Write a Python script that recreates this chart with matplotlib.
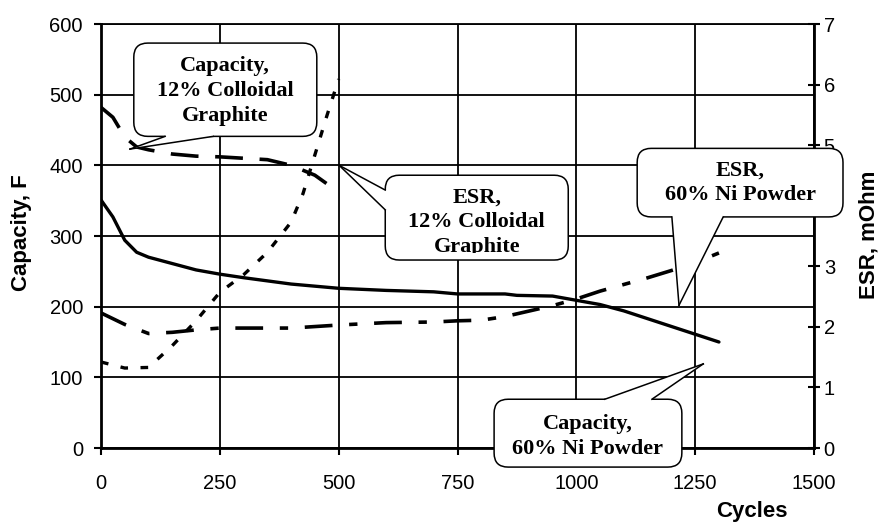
import numpy as np
import matplotlib
matplotlib.use("Agg")
import matplotlib.pyplot as plt
from matplotlib.patches import FancyBboxPatch, Polygon, Rectangle
from matplotlib.lines import Line2D
from matplotlib.transforms import IdentityTransform

plt.rcParams['font.family'] = ['Liberation Sans', 'DejaVu Sans']
plt.rcParams['lines.scale_dashes'] = False

# Capacity, 60% Ni Powder (left axis, F)
cap_ni_cycles = [0, 25, 50, 75, 100, 150, 200, 250, 300, 400, 500, 600, 700, 750,
                 850, 875, 950, 1000, 1050, 1100, 1200, 1300]
cap_ni = [351, 327, 294, 277, 270, 261, 252, 246, 241, 232, 226, 223, 221, 218,
          218, 216, 215, 209, 203, 194, 172, 150]

# Capacity, 12% Colloidal Graphite (left axis, F)
cap_cg_cycles = [0, 25, 50, 75, 100, 150, 200, 250, 300, 350, 400, 450, 500]
cap_cg = [482, 468, 440, 426, 422, 416, 413, 412, 410, 408, 400, 386, 362]

# ESR, 12% Colloidal Graphite (right axis, mOhm)
esr_cg_cycles = [0, 50, 100, 150, 200, 250, 300, 350, 400, 425, 450, 475, 500]
esr_cg = [1.42, 1.32, 1.33, 1.69, 2.10, 2.57, 2.86, 3.23, 3.73, 4.20, 4.84, 5.48, 6.09]

# ESR, 60% Ni Powder (right axis, mOhm)
esr_ni_cycles = [0, 50, 100, 150, 200, 250, 300, 400, 500, 600, 700, 750, 800, 850,
                 900, 950, 1000, 1050, 1100, 1150, 1200, 1250, 1300]
esr_ni = [2.23, 2.04, 1.89, 1.91, 1.95, 1.98, 1.98, 1.98, 2.03, 2.07, 2.08, 2.10, 2.11,
          2.17, 2.26, 2.35, 2.46, 2.59, 2.70, 2.81, 2.93, 3.06, 3.22]

x_ticks = [0, 250, 500, 750, 1000, 1250, 1500]
cap_ticks = [0, 100, 200, 300, 400, 500, 600]
esr_ticks = [0, 1, 2, 3, 4, 5, 6, 7]

fig = plt.figure(figsize=(8.8, 5.25), dpi=100)
fig.subplots_adjust(left=101 / 880, right=814 / 880, top=1 - 24 / 525, bottom=1 - 448 / 525)
ax = fig.add_subplot(111)
ax2 = ax.twinx()

ax.set_xlim(0, 1500)
ax.set_ylim(0, 600)
ax2.set_ylim(0, 7)
ax.set_xticks(x_ticks)
ax.set_yticks(cap_ticks)
ax2.set_yticks(esr_ticks)

ax.grid(True, color='black', lw=1.3)
ax.set_axisbelow(True)

ax.plot(cap_ni_cycles, cap_ni, color='black', lw=2.4, solid_capstyle='round')
ax.plot(cap_cg_cycles, cap_cg, color='black', lw=2.6, dashes=(20, 12))
ax2.plot(esr_cg_cycles, esr_cg, color='black', lw=2.4, dashes=(5.5, 9))
ax2.plot(esr_ni_cycles, esr_ni, color='black', lw=2.6, dashes=(20, 12, 6, 12))

for s in ['left', 'bottom']:
    ax.spines[s].set_linewidth(2)
ax.spines['top'].set_linewidth(1.3)
ax.spines['right'].set_visible(False)
for s in ['left', 'top', 'bottom']:
    ax2.spines[s].set_visible(False)
ax2.spines['right'].set_linewidth(2)

ax.tick_params(axis='y', direction='out', length=5, width=1.5, labelsize=14.5, pad=8)
ax.tick_params(axis='x', direction='out', length=5, width=1.5, labelsize=14.5, pad=14)
ax2.tick_params(axis='y', direction='inout', length=8, width=1.5, labelsize=14.5, pad=3)

fig.text(22 / 880, 1 - 233 / 525, 'Capacity, F', rotation=90, ha='center', va='center',
         fontsize=16, fontweight='bold')
fig.text(869 / 880, 1 - 235 / 525, 'ESR, mOhm', rotation=90, ha='center', va='center',
         fontsize=16, fontweight='bold')
fig.text(752 / 880, 1 - 511 / 525, 'Cycles', ha='center', va='center',
         fontsize=16, fontweight='bold')


def callout(text, box, tip, base, side, top_text=False, dy=0):
    # box / tip / base given in left-axis data coords, drawn in pixels
    T = ax.transData
    p0 = T.transform((box[0], box[1]))
    p1 = T.transform((box[2], box[3]))
    x0, x1 = sorted([p0[0], p1[0]])
    y0, y1 = sorted([p0[1], p1[1]])
    patch = FancyBboxPatch((x0, y0), x1 - x0, y1 - y0,
                           boxstyle="round,pad=0,rounding_size=14",
                           fc='white', ec='black', lw=1.1,
                           transform=IdentityTransform(), zorder=10)
    fig.add_artist(patch)
    t = T.transform(tip)
    b1 = T.transform(base[0])
    b2 = T.transform(base[1])
    n = np.array({'bottom': (0, 3), 'top': (0, -3), 'left': (3, 0)}[side])
    cover = Polygon([t, b1, b1 + n, b2 + n, b2], closed=True, fc='white', ec='none',
                    transform=IdentityTransform(), zorder=11)
    fig.add_artist(cover)
    for b in (b1, b2):
        fig.add_artist(Line2D([t[0], b[0]], [t[1], b[1]], color='black', lw=1.1,
                              transform=IdentityTransform(), zorder=12))
    cx = (x0 + x1) / 2
    style = dict(ha='center', fontsize=16, fontweight='bold', family='Liberation Serif',
                 linespacing=1.32, transform=IdentityTransform(), zorder=13)
    if top_text:
        txt = fig.text(cx, y1 - 12, text, va='top', **style)
        clip = Rectangle((x0, y0 + 7), x1 - x0, y1 - y0 - 7, transform=IdentityTransform())
        txt.set_clip_path(clip)
    else:
        fig.text(cx, (y0 + y1) / 2 + dy, text, va='center', **style)


callout('Capacity,\n12% Colloidal\nGraphite', (69, 441, 454, 573), (61, 423),
        [(135, 441), (236, 441)], 'bottom', dy=-1)
callout('ESR,\n12% Colloidal\nGraphite', (598, 266, 983, 386), (501, 400),
        [(598, 365), (598, 337)], 'left', top_text=True)
callout('ESR,\n60% Ni Powder', (1128, 327, 1561, 424), (1216, 202),
        [(1201, 327), (1309, 327)], 'bottom')
callout('Capacity,\n60% Ni Powder', (827, -27, 1222, 69), (1267, 119),
        [(1060, 69), (1159, 69)], 'top', dy=-3)

fig.savefig('out.png', dpi=100)
